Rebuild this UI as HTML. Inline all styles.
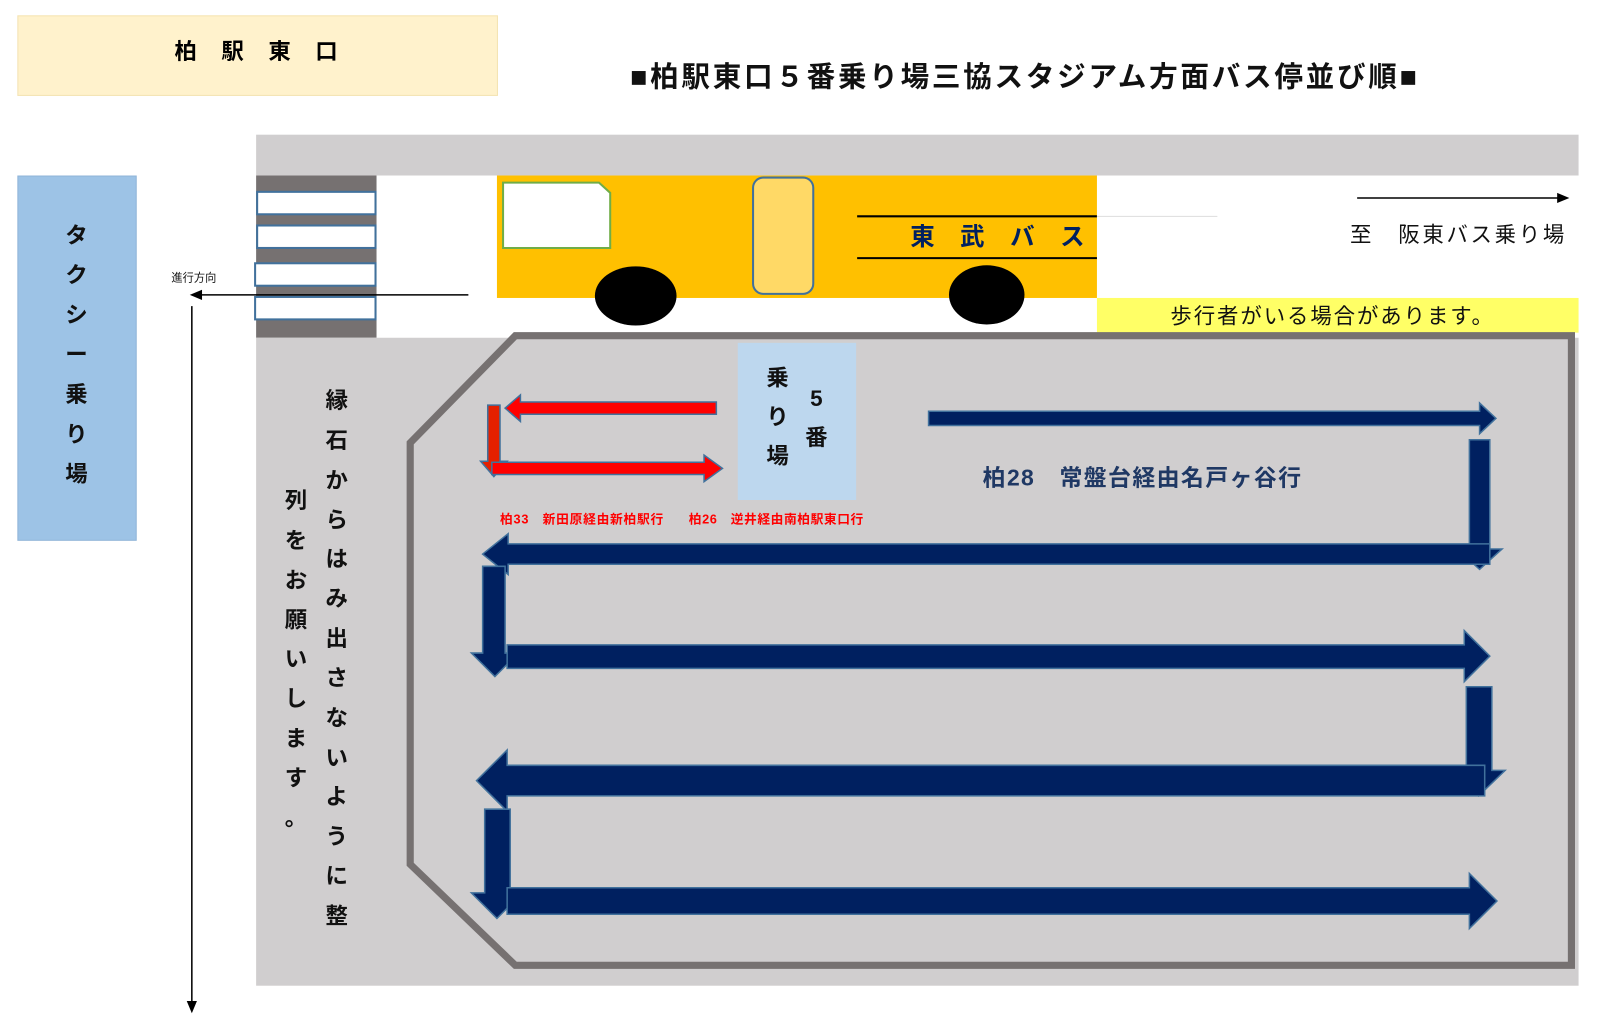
<!DOCTYPE html>
<html><head><meta charset="utf-8"><style>
html,body{margin:0;padding:0;background:#fff;}
svg{display:block;}
text{font-family:"Liberation Sans","Noto Sans CJK JP",sans-serif;}
.b{font-weight:bold;}
</style></head><body>
<svg width="1600" height="1025" viewBox="0 0 1568 1004.5" xmlns="http://www.w3.org/2000/svg">
<rect x="0" y="0" width="1568" height="1005" fill="#fff"/>
<rect x="17.5" y="15.5" width="470" height="78" fill="#fff2cc" stroke="#f4e3b0"/>
<text x="263" y="58" class="b" font-size="22" text-anchor="middle" letter-spacing="24">柏駅東口</text>
<text x="1003" y="85" class="b" font-size="28" text-anchor="middle" fill="#111" textLength="771" lengthAdjust="spacing">■柏駅東口５番乗り場三協スタジアム方面バス停並び順■</text>
<rect x="251" y="132" width="1296" height="40" fill="#d0cecf"/>
<rect x="17.5" y="172.5" width="116" height="357" fill="#9dc3e6" stroke="#8fb4d8"/>
<g class="b" font-size="22" text-anchor="middle" fill="#111">
<text x="75" y="238">タ</text><text x="75" y="277">ク</text><text x="75" y="316">シ</text><text x="75" y="355">ー</text><text x="75" y="394">乗</text><text x="75" y="433">り</text><text x="75" y="472">場</text>
</g>
<rect x="251" y="172" width="118" height="159" fill="#767171"/>
<g fill="#fff" stroke="#41719c" stroke-width="2">
<rect x="252" y="188" width="116" height="22"/><rect x="252" y="221" width="116" height="22"/><rect x="250" y="258" width="118" height="22"/><rect x="250" y="291" width="118" height="22"/>
</g>
<rect x="487" y="172" width="588" height="120" fill="#ffc000"/>
<polygon points="493,179 587,179 598,189 598,243 493,243" fill="#fff" stroke="#70ad47" stroke-width="2"/>
<rect x="738" y="174" width="59" height="114" rx="10" fill="#ffd966" stroke="#41719c" stroke-width="2"/>
<line x1="840" y1="212" x2="1075" y2="212" stroke="#000" stroke-width="2"/>
<line x1="840" y1="253" x2="1075" y2="253" stroke="#000" stroke-width="2"/>
<line x1="1075" y1="212" x2="1193" y2="212" stroke="#ddd" stroke-width="1"/>
<text x="892" y="240" class="b" font-size="24" fill="#002060" letter-spacing="25">東武バス</text>
<ellipse cx="623" cy="290" rx="40" ry="29" fill="#000"/>
<ellipse cx="967" cy="289" rx="37" ry="29" fill="#000"/>
<line x1="1330" y1="194" x2="1528" y2="194" stroke="#000" stroke-width="1.5"/>
<polygon points="1538,194 1526,189 1526,199" fill="#000"/>
<text x="1323" y="237" font-size="21" fill="#111" textLength="210" lengthAdjust="spacing">至　阪東バス乗り場</text>
<rect x="1075" y="292" width="472" height="34" fill="#ffff66"/>
<text x="1147" y="317" font-size="21" fill="#111" textLength="316" lengthAdjust="spacing">歩行者がいる場合があります。</text>
<rect x="251" y="331" width="1296" height="635" fill="#d0cecf"/>
<polygon points="505,329 1540,329 1540,946 505,946 402,847 402,434" fill="#d0cecf" stroke="#767171" stroke-width="7"/>
<g class="b" font-size="22" text-anchor="middle" fill="#111">
<text x="330" y="400">縁</text><text x="330" y="439">石</text><text x="330" y="478">か</text><text x="330" y="517">ら</text><text x="330" y="555">は</text><text x="330" y="594">み</text><text x="330" y="633">出</text><text x="330" y="672">さ</text><text x="330" y="711">な</text><text x="330" y="750">い</text><text x="330" y="788">よ</text><text x="330" y="827">う</text><text x="330" y="866">に</text><text x="330" y="905">整</text>
<text x="290" y="498">列</text><text x="290" y="537">を</text><text x="290" y="576">お</text><text x="290" y="615">願</text><text x="290" y="653">い</text><text x="290" y="692">し</text><text x="290" y="731">ま</text><text x="290" y="770">す</text><text x="290" y="809">。</text>
</g>
<line x1="188" y1="300" x2="188" y2="982" stroke="#000" stroke-width="1.5"/>
<polygon points="188,993 183,981 193,981" fill="#000"/>
<line x1="459" y1="289" x2="196" y2="289" stroke="#000" stroke-width="1.5"/>
<polygon points="186,289 198,284 198,294" fill="#000"/>
<text x="168" y="276" font-size="11" fill="#111">進行方向</text>
<rect x="723" y="336" width="116" height="154" fill="#bdd7ee"/>
<g class="b" font-size="22" text-anchor="middle" fill="#111">
<text x="762" y="378">乗</text><text x="762" y="416">り</text><text x="762" y="454">場</text>
<text x="800" y="398">5</text><text x="800" y="436">番</text>
</g>
<g fill="#ff0000" stroke="#41719c" stroke-width="1.5">
<polygon points="702,394 510,394 510,387 495,400 510,413 510,406 702,406"/>
<polygon points="478,397 490,397 490,452 497,452 484,467 471,452 478,452" fill="#e52000"/>
<polygon points="482,453 690,453 690,446 708,459 690,472 690,465 482,465"/>
</g>
<g class="b" font-size="12.5" fill="#ff0000">
<text x="490" y="513" textLength="160" lengthAdjust="spacing">柏33　新田原経由新柏駅行</text>
<text x="675" y="513" textLength="171" lengthAdjust="spacing">柏26　逆井経由南柏駅東口行</text>
</g>
<g fill="#002060" stroke="#41719c" stroke-width="1.5">
<polygon points="910,403 1450,403 1450,395 1466,410 1450,425 1450,417 910,417"/>
<polygon points="1440,431 1460,431 1460,538 1472,538 1450,558 1428,538 1440,538"/>
<polygon points="1460,533 498,533 498,523 473,543 498,563 498,553 1460,553"/>
<polygon points="473,555 495,555 495,640 508,640 485,663 462,640 473,640"/>
<polygon points="497,632 1435,632 1435,618 1460,643 1435,668 1435,655 497,655"/>
<polygon points="1437,673 1462,673 1462,755 1475,755 1449,780 1423,755 1437,755"/>
<polygon points="1455,750 497,750 497,735 467,765 497,795 497,780 1455,780"/>
<polygon points="475,793 500,793 500,875 512,875 487,900 462,875 475,875"/>
<polygon points="497,870 1440,870 1440,856 1467,883 1440,910 1440,896 497,896"/>
</g>
<text x="963" y="476" class="b" font-size="22.5" fill="#1f3864" textLength="312" lengthAdjust="spacing">柏28　常盤台経由名戸ヶ谷行</text>
</svg>
</body></html>
